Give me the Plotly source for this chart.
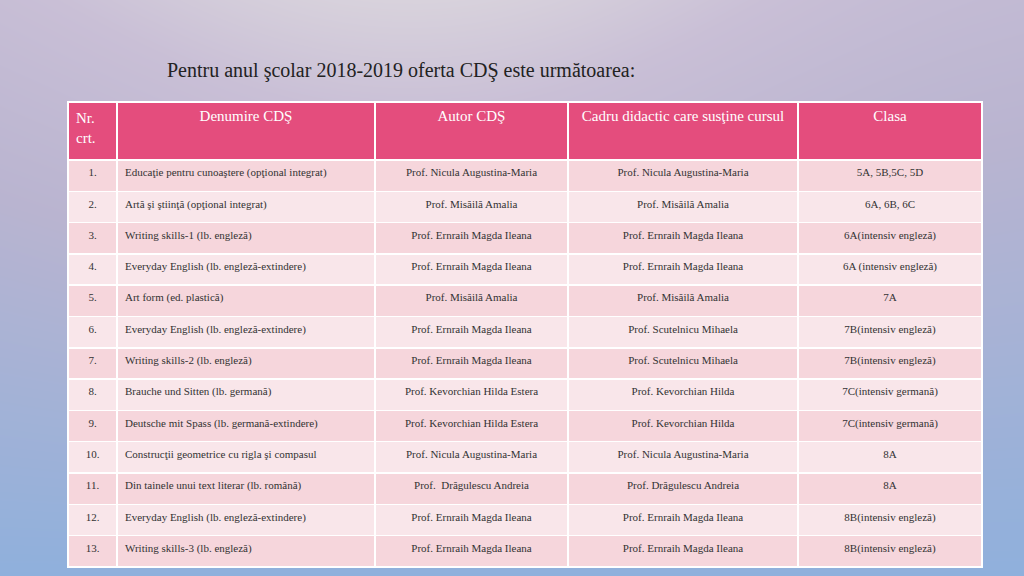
import plotly.graph_objects as go
import numpy as np

headers = ["Nr.<br>crt.", "Denumire CDŞ", "Autor CDŞ", "Cadru didactic care susţine cursul", "Clasa"]
nr = [f"{i}." for i in range(1, 14)]
denumire = ["Educaţie pentru cunoaştere (opţional integrat)", "Artă şi ştiinţă (opţional integrat)",
            "Writing skills-1 (lb. engleză)", "Everyday English (lb. engleză-extindere)", "Art form (ed. plastică)",
            "Everyday English (lb. engleză-extindere)", "Writing skills-2 (lb. engleză)", "Brauche und Sitten (lb. germană)",
            "Deutsche mit Spass (lb. germană-extindere)", "Construcţii geometrice cu rigla şi compasul",
            "Din tainele unui text literar (lb. română)", "Everyday English (lb. engleză-extindere)", "Writing skills-3 (lb. engleză)"]
autor = ["Prof. Nicula Augustina-Maria", "Prof. Misăilă Amalia", "Prof. Ernraih Magda Ileana", "Prof. Ernraih Magda Ileana",
         "Prof. Misăilă Amalia", "Prof. Ernraih Magda Ileana", "Prof. Ernraih Magda Ileana", "Prof. Kevorchian Hilda Estera",
         "Prof. Kevorchian Hilda Estera", "Prof. Nicula Augustina-Maria", "Prof.  Drăgulescu Andreia",
         "Prof. Ernraih Magda Ileana", "Prof. Ernraih Magda Ileana"]
cadru = ["Prof. Nicula Augustina-Maria", "Prof. Misăilă Amalia", "Prof. Ernraih Magda Ileana", "Prof. Ernraih Magda Ileana",
         "Prof. Misăilă Amalia", "Prof. Scutelnicu Mihaela", "Prof. Scutelnicu Mihaela", "Prof. Kevorchian Hilda",
         "Prof. Kevorchian Hilda", "Prof. Nicula Augustina-Maria", "Prof. Drăgulescu Andreia",
         "Prof. Ernraih Magda Ileana", "Prof. Ernraih Magda Ileana"]
clasa = ["5A, 5B,5C, 5D", "6A, 6B, 6C", "6A(intensiv engleză)", "6A (intensiv engleză)", "7A", "7B(intensiv engleză)",
         "7B(intensiv engleză)", "7C(intensiv germană)", "7C(intensiv germană)", "8A", "8A", "8B(intensiv engleză)",
         "8B(intensiv engleză)"]

fig = go.Figure()

# background gradient
gx = np.linspace(0, 1, 40)
gy = np.linspace(0, 1, 30)
X, Y = np.meshgrid(gx, gy)
Z = Y * 0.8 + 0.5 * np.exp(-((X - 0.4) ** 2) * 6) * Y
fig.add_trace(go.Heatmap(x=gx, y=gy, z=Z, showscale=False, hoverinfo="skip", zsmooth="best",
                         colorscale=[[0, "#8fb0dc"], [0.5, "#b9b4d0"], [0.8, "#c9bfd6"], [1, "#d8d2dc"]]))
fig.update_xaxes(visible=False, range=[0, 1], domain=[0, 1])
fig.update_yaxes(visible=False, range=[0, 1], domain=[0, 1])

rowfill = ["#f6d6dc" if i % 2 == 0 else "#f9e6ea" for i in range(13)]
font = "Liberation Serif"
fig.add_trace(go.Table(
    domain=dict(x=[68 / 1024, 982 / 1024], y=[6 / 576, 1 - 102 / 576]),
    columnwidth=[49, 258, 193, 230, 184],
    header=dict(values=headers, fill_color="#e44d7d", line_color="white", line_width=1.5,
                align=["left", "center", "center", "center", "center"],
                font=dict(family=font, size=15, color="white"), height=58),
    cells=dict(values=[nr, denumire, autor, cadru, clasa], fill_color=[rowfill] * 5,
               line_color="white", line_width=1.5,
               align=["center", "left", "center", "center", "center"],
               font=dict(family=font, size=11, color="#333"), height=31.3),
))

fig.add_annotation(x=165 / 1024, y=1 - 70 / 576, xref="paper", yref="paper", xanchor="left", yanchor="middle",
                   text="Pentru anul şcolar 2018-2019 oferta CDŞ este următoarea:", showarrow=False,
                   font=dict(family=font, size=20, color="#222"))

fig.update_layout(width=1024, height=576, margin=dict(l=0, r=0, t=0, b=0), paper_bgcolor="#c0bcd4",
                  plot_bgcolor="#c0bcd4")
fig.write_html("out.html", config={"displayModeBar": False},
               post_script="document.body.style.margin='0';document.body.style.overflow='hidden';")
